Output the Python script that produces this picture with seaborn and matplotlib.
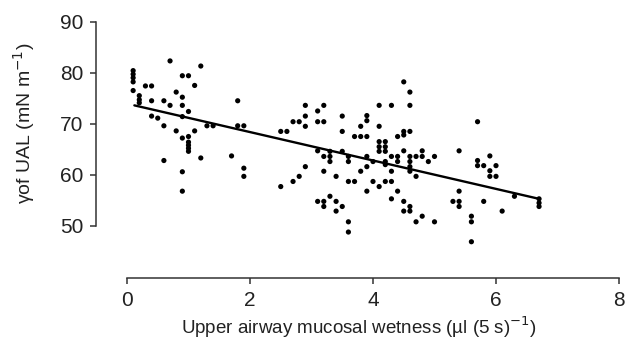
import numpy as np
import pandas as pd
import matplotlib
matplotlib.use("Agg")
import matplotlib.pyplot as plt
import seaborn as sns

# -----------------------------
# DATA
# -----------------------------
wetness = [
    0.1, 0.1, 0.1, 0.1, 0.1,
    0.2, 0.2, 0.2,
    0.3, 0.4, 0.4, 0.4, 0.5,
    0.6, 0.6, 0.6,
    0.7, 0.7,
    0.8, 0.8,
    0.9, 0.9, 0.9, 0.9, 0.9, 0.9, 0.9,
    1.0, 1.0, 1.0, 1.0, 1.0, 1.0, 1.0,
    1.1, 1.1,
    1.2, 1.2,
    1.3, 1.4,
    1.7,
    1.8, 1.8, 1.9, 1.9, 1.9,
    4.5, 4.6,
    2.9, 3.2, 4.1, 4.3, 4.6,
    3.1, 2.9, 3.9, 3.9, 3.5,
    2.7, 2.8, 2.9, 3.1, 3.2,
    3.8, 4.1,
    2.5, 2.6, 3.5, 4.5, 4.6, 4.5,
    3.7, 3.8, 3.9, 4.4,
    4.1, 4.2, 4.1, 4.2, 4.1, 4.2,
    4.5, 4.8, 5.4,
    3.1, 3.3, 3.5,
    3.2, 3.3, 3.3,
    3.6, 3.6, 3.9,
    4.3, 4.4, 4.4,
    4.6, 4.7, 4.8, 4.6, 4.9, 5.0,
    4.0, 4.2, 4.2,
    4.6, 4.6, 2.9, 3.9, 3.8, 4.3, 3.2,
    2.8, 3.4, 4.7,
    2.7, 3.6, 3.7, 4.0, 4.2, 4.3,
    2.5, 4.1,
    3.9, 4.4, 5.4,
    3.3, 4.3,
    3.1, 3.2, 3.2, 3.4, 3.5, 3.4,
    4.5, 4.6, 4.6, 4.5,
    5.3, 5.4, 5.4,
    4.8, 4.7, 5.0, 3.6, 3.6,
    5.7, 5.7, 5.7, 5.8, 5.9, 6.0,
    5.9, 5.9, 6.0,
    5.8, 6.3, 6.1,
    5.6, 5.6, 5.6,
    6.7, 6.7, 6.7,
]
surface_tension = [
    80.4, 79.7, 79.0, 78.2, 76.5,
    75.5, 74.7, 74.1,
    77.4, 77.4, 74.5, 71.5, 71.1,
    74.5, 69.6, 62.8,
    82.3, 73.6,
    76.2, 68.6,
    79.4, 75.2, 73.6, 71.4, 67.2, 60.6, 56.8,
    79.4, 72.4, 67.5, 66.4, 65.8, 65.2, 64.6,
    77.5, 68.6,
    81.3, 63.3,
    69.6, 69.6,
    63.7,
    74.5, 69.6, 69.6, 61.3, 59.7,
    78.2, 76.2,
    73.6, 73.6, 73.6, 73.6, 73.6,
    72.5, 71.5, 71.6, 70.6, 71.5,
    70.4, 70.4, 69.5, 70.4, 70.4,
    69.5, 69.5,
    68.5, 68.5, 68.5, 68.5, 68.5, 67.8,
    67.5, 67.5, 67.5, 67.5,
    66.5, 66.5, 65.5, 65.5, 64.6, 64.6,
    64.7, 64.7, 64.7,
    64.7, 64.6, 64.6,
    63.6, 63.6, 62.6,
    63.6, 62.6, 63.6,
    63.6, 63.6, 62.6,
    63.6, 63.6, 63.6, 62.6, 62.6, 63.6,
    62.6, 62.6, 62.0,
    61.6, 60.7, 61.6, 61.6, 60.7, 60.7, 60.7,
    59.7, 59.7, 59.7,
    58.7, 58.7, 58.7, 58.7, 58.7, 58.7,
    57.7, 57.7,
    56.8, 56.8, 56.8,
    55.8, 55.3,
    54.8, 54.8, 53.8, 54.8, 53.8, 52.9,
    54.8, 53.8, 52.9, 52.9,
    54.8, 54.8, 53.8,
    51.9, 50.8, 50.8, 50.8, 48.8,
    70.4, 62.8, 61.8, 61.8, 63.7, 61.8,
    60.8, 59.7, 59.7,
    54.8, 55.8, 52.9,
    51.9, 50.8, 46.9,
    55.3, 54.5, 53.8,
]

# fitted regression line as drawn in the figure
fit_x = [0.12, 6.7]
fit_y = [73.6, 55.3]

x_ticks = [0, 2, 4, 6, 8]
y_ticks = [50, 60, 70, 80, 90]

df = pd.DataFrame({"wetness": wetness, "gamma": surface_tension})
df_fit = pd.DataFrame({"wetness": fit_x, "gamma": fit_y})

# -----------------------------
# PLOT
# -----------------------------
sns.set_style("ticks")
plt.rcParams["font.family"] = ["Liberation Sans", "DejaVu Sans"]

fig = plt.figure(figsize=(6.29, 3.43), dpi=100)
ax = fig.add_axes([0.153, 0.1895, 0.836, 0.752])

sns.scatterplot(data=df, x="wetness", y="gamma", ax=ax, color="black",
                s=14, edgecolor="none", linewidth=0, legend=False)
sns.lineplot(data=df_fit, x="wetness", y="gamma", ax=ax, color="black",
             linewidth=1.7)

ax.set_xlim(-0.5, 8.05)
ax.set_ylim(39.8, 90.3)
ax.set_xticks(x_ticks)
ax.set_yticks(y_ticks)

for side in ["top", "right"]:
    ax.spines[side].set_visible(False)
ax.spines["left"].set_bounds(50, 90)
ax.spines["bottom"].set_bounds(0, 8)
for side in ["left", "bottom"]:
    ax.spines[side].set_color("#333333")
    ax.spines[side].set_linewidth(1.1)

ax.tick_params(axis="both", direction="out", length=4.5, width=1.1,
               color="#333333", labelsize=15, labelcolor="#222222", pad=5)

ax.set_xlabel("Upper airway mucosal wetness (\u00b5l (5 s)$^{-1}$)",
              fontsize=13.5, color="#222222", labelpad=3)
ax.set_ylabel("\u03b3of UAL (mN m$^{-1}$)", fontsize=14, color="#222222")
# y label sits centred on the bounded left spine, not on the full axes
ax.yaxis.set_label_coords(-0.112, 0.6)

fig.savefig("out.png", dpi=100)
